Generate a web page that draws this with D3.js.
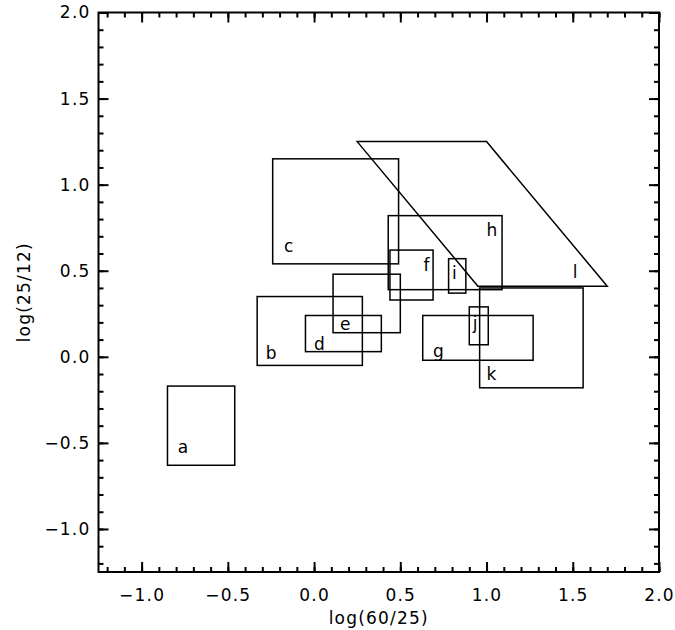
<!DOCTYPE html>
<html>
<head>
<meta charset="utf-8">
<script src="https://cdn.jsdelivr.net/npm/d3@7"></script>
<style>
  body { margin: 0; background: #fff; }
  svg { display: block; font-family: "DejaVu Sans", sans-serif; letter-spacing: 1.2px; }
</style>
</head>
<body>
<svg id="chart" width="675" height="630"></svg>
<script>
// rectangles: name, x0, x1, y0, y1 (log units)
const boxNames = ['a', 'b', 'c', 'd', 'e', 'f', 'g', 'h', 'i', 'j', 'k'];
const boxX0 = [-0.85, -0.33, -0.24, -0.05, 0.11, 0.44, 0.63, 0.43, 0.78, 0.90, 0.96];
const boxX1 = [-0.46, 0.28, 0.49, 0.39, 0.50, 0.69, 1.27, 1.09, 0.88, 1.01, 1.56];
const boxY0 = [-0.63, -0.05, 0.54, 0.03, 0.14, 0.33, -0.02, 0.39, 0.37, 0.07, -0.18];
const boxY1 = [-0.17, 0.35, 1.15, 0.24, 0.48, 0.62, 0.24, 0.82, 0.57, 0.29, 0.40];

// region l is a parallelogram
const polyX = [0.25, 1.00, 1.70, 0.95];
const polyY = [1.25, 1.25, 0.41, 0.41];

// label anchor points (data units)
const labelNames = ['a', 'b', 'c', 'd', 'e', 'f', 'g', 'h', 'i', 'j', 'k', 'l'];
const labelX = [-0.79, -0.28, -0.175, 0.0, 0.15, 0.635, 0.69, 1.0, 0.80, 0.92, 1.0, 1.50];
const labelY = [-0.56, -0.01, 0.61, 0.04, 0.155, 0.50, 0.0, 0.70, 0.45, 0.16, -0.135, 0.455];

const majorTicks = [-1.0, -0.5, 0.0, 0.5, 1.0, 1.5, 2.0];
const minorTicks = d3.range(-12, 21).map(i => i / 10);

const svg = d3.select('#chart');
const margin = {left: 98.5, right: 659, top: 12.5, bottom: 572};
const fontSize = 17;

const x = d3.scaleLinear().domain([-1.25, 2.0]).range([margin.left, margin.right]);
const y = d3.scaleLinear().domain([-1.25, 2.0]).range([margin.bottom, margin.top]);
const fmt = d3.format('.1f');

function styleAxis(g) {
  g.select('.domain').remove();
  g.selectAll('line').attr('stroke', '#000').attr('stroke-width', 2);
  g.selectAll('text').attr('font-size', fontSize).attr('fill', '#000')
    .attr('font-family', '"DejaVu Sans", sans-serif');
}

// bottom
svg.append('g').attr('transform', `translate(0,${margin.bottom})`)
  .call(d3.axisBottom(x).tickValues(majorTicks).tickFormat(fmt).tickSize(-10).tickPadding(17))
  .call(styleAxis);
svg.append('g').attr('transform', `translate(0,${margin.bottom})`)
  .call(d3.axisBottom(x).tickValues(minorTicks).tickFormat('').tickSize(-5))
  .call(styleAxis);
// top
svg.append('g').attr('transform', `translate(0,${margin.top})`)
  .call(d3.axisTop(x).tickValues(majorTicks).tickFormat('').tickSize(-10))
  .call(styleAxis);
svg.append('g').attr('transform', `translate(0,${margin.top})`)
  .call(d3.axisTop(x).tickValues(minorTicks).tickFormat('').tickSize(-5))
  .call(styleAxis);
// left
svg.append('g').attr('transform', `translate(${margin.left},0)`)
  .call(d3.axisLeft(y).tickValues(majorTicks).tickFormat(fmt).tickSize(-10).tickPadding(8))
  .call(styleAxis);
svg.append('g').attr('transform', `translate(${margin.left},0)`)
  .call(d3.axisLeft(y).tickValues(minorTicks).tickFormat('').tickSize(-5))
  .call(styleAxis);
// right
svg.append('g').attr('transform', `translate(${margin.right},0)`)
  .call(d3.axisRight(y).tickValues(majorTicks).tickFormat('').tickSize(-10))
  .call(styleAxis);
svg.append('g').attr('transform', `translate(${margin.right},0)`)
  .call(d3.axisRight(y).tickValues(minorTicks).tickFormat('').tickSize(-5))
  .call(styleAxis);

// frame
svg.append('rect')
  .attr('x', margin.left).attr('y', margin.top)
  .attr('width', margin.right - margin.left).attr('height', margin.bottom - margin.top)
  .attr('fill', 'none').attr('stroke', '#000').attr('stroke-width', 2);

// boxes
const boxes = boxNames.map((n, i) => ({ n, x0: boxX0[i], x1: boxX1[i], y0: boxY0[i], y1: boxY1[i] }));
svg.append('g')
  .selectAll('rect')
  .data(boxes)
  .enter().append('rect')
  .attr('x', d => x(d.x0))
  .attr('y', d => y(d.y1))
  .attr('width', d => x(d.x1) - x(d.x0))
  .attr('height', d => y(d.y0) - y(d.y1))
  .attr('fill', 'none')
  .attr('stroke', '#000')
  .attr('stroke-width', 1.5);

const line = d3.line().x(d => x(d[0])).y(d => y(d[1])).curve(d3.curveLinearClosed);
svg.append('path')
  .attr('d', line(polyX.map((v, i) => [v, polyY[i]])))
  .attr('fill', 'none')
  .attr('stroke', '#000')
  .attr('stroke-width', 1.5);

svg.append('g')
  .selectAll('text')
  .data(labelNames)
  .enter().append('text')
  .attr('x', (d, i) => x(labelX[i]))
  .attr('y', (d, i) => y(labelY[i]))
  .attr('font-size', fontSize)
  .attr('fill', '#000')
  .text(d => d);

// axis titles
svg.append('text')
  .attr('x', (margin.left + margin.right) / 2)
  .attr('y', 624)
  .attr('text-anchor', 'middle')
  .attr('font-size', fontSize)
  .text('log(60/25)');

svg.append('text')
  .attr('transform', `translate(30,${(margin.top + margin.bottom) / 2}) rotate(-90)`)
  .attr('text-anchor', 'middle')
  .attr('font-size', fontSize)
  .text('log(25/12)');
</script>
</body>
</html>
